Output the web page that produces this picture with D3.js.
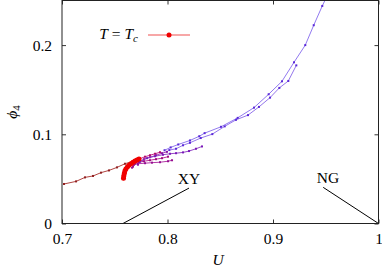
<!DOCTYPE html>
<html>
<head>
<meta charset="utf-8">
<script src="https://cdn.jsdelivr.net/npm/d3@7"></script>
<style>
body { margin: 0; background: #fff; }
svg { display: block; }
text { font-family: "Liberation Serif", "DejaVu Serif", serif; font-size: 15.5px; fill: #000; }
</style>
</head>
<body>
<script>

// ticks
var xTicks = [0.7, 0.8, 0.9, 1.0];
var xTickLabels = ["0.7", "0.8", "0.9", "1"];
var yTicks = [0, 0.1, 0.2];
var yTickLabels = ["0", "0.1", "0.2"];

// T = Tc points (U, phi4)
var tcU   = [0.7583, 0.7586, 0.7591, 0.7597, 0.7607, 0.7621, 0.7635, 0.7654, 0.7673, 0.7692, 0.7711, 0.7730];
var tcPhi = [0.0508, 0.0536, 0.0564, 0.0592, 0.0615, 0.0637, 0.0654, 0.0670, 0.0687, 0.0701, 0.0713, 0.0723];

// flow curves, red -> blue
var curve1U   = [0.7019, 0.7133, 0.7218, 0.7294, 0.7370, 0.7445, 0.7521, 0.7597, 0.7673, 0.7711];
var curve1Phi = [0.0443, 0.0472, 0.0517, 0.0533, 0.0570, 0.0595, 0.0629, 0.0670, 0.0698, 0.0715];

var curve2U   = [0.7682, 0.7701, 0.7739, 0.7787, 0.7834, 0.7882, 0.7929];
var curve2Phi = [0.0670, 0.0704, 0.0726, 0.0749, 0.0765, 0.0782, 0.0799];

var curve3U   = [0.7673, 0.7692, 0.7730, 0.7777, 0.7834, 0.7891, 0.7948, 0.8005];
var curve3Phi = [0.0637, 0.0670, 0.0687, 0.0698, 0.0709, 0.0721, 0.0732, 0.0749];

var curve4U   = [0.7664, 0.7682, 0.7720, 0.7787, 0.7853, 0.7929, 0.8005, 0.8043];
var curve4Phi = [0.0626, 0.0659, 0.0670, 0.0676, 0.0682, 0.0687, 0.0698, 0.0709];

var curve5U   = [0.7720, 0.7739, 0.7777, 0.7834, 0.7891, 0.7948, 0.7995];
var curve5Phi = [0.0659, 0.0698, 0.0721, 0.0743, 0.0765, 0.0788, 0.0804];

var curve6U   = [0.7739, 0.7806, 0.7882, 0.7957, 0.8024, 0.8081, 0.8147, 0.8204, 0.8270, 0.8327];
var curve6Phi = [0.0693, 0.0732, 0.0754, 0.0771, 0.0782, 0.0788, 0.0797, 0.0812, 0.0838, 0.0864];

var curve7U   = [0.8017, 0.8081, 0.8147, 0.8213, 0.8315, 0.8425, 0.8542, 0.8649, 0.8763, 0.8867, 0.8972, 0.9060, 0.9145, 0.9221];
var curve7Phi = [0.0823, 0.0838, 0.0877, 0.0905, 0.0958, 0.1002, 0.1089, 0.1162, 0.1215, 0.1307, 0.1411, 0.1520, 0.1598, 0.1773];

var curve8U   = [0.7972, 0.8030, 0.8102, 0.8213, 0.8301, 0.8352, 0.8507, 0.8665, 0.8820, 0.8959, 0.9085, 0.9199, 0.9306, 0.9386, 0.9467, 0.9502];
var curve8Phi = [0.0821, 0.0853, 0.0886, 0.0931, 0.0978, 0.1013, 0.1084, 0.1184, 0.1299, 0.1449, 0.1594, 0.1807, 0.2000, 0.2223, 0.2439, 0.2525];

var curveColors = ["#a8302c", "#c0147c", "#b41c8c", "#a8249c", "#9c2cac", "#8a34c0", "#7048e4", "#6c4cea"];
var markColors  = ["#902020", "#b00a70", "#a00c80", "#960e90", "#8a12a0", "#7a18b8", "#5a28d8", "#5a28d8"];

// fixed point markers
var fixedNames = ["XY", "NG"];
var fixedU     = [0.7578, 1.0];
var labelU     = [0.8204, 0.9476];
var labelPhi   = [0.0397, 0.0405];

var width = 382, height = 268;
var svg = d3.select("body").append("svg")
    .attr("width", width)
    .attr("height", height);

var x = d3.scaleLinear().domain([0.7, 1.0]).range([62, 378.5]);
var y = d3.scaleLinear().domain([0, 0.25]).range([223.5, 0.5]);

var plot = svg.append("g");
svg.append("clipPath").attr("id", "clip")
    .append("rect").attr("x", 62).attr("y", 0.5).attr("width", 316.5).attr("height", 223);

var line = d3.line().x(function (d) { return x(d[0]); }).y(function (d) { return y(d[1]); });

var curves = [
    [curve1U, curve1Phi], [curve2U, curve2Phi], [curve3U, curve3Phi], [curve4U, curve4Phi],
    [curve5U, curve5Phi], [curve6U, curve6Phi], [curve7U, curve7Phi], [curve8U, curve8Phi]
];

var curveG = plot.append("g").attr("clip-path", "url(#clip)");
curves.forEach(function (c, i) {
    var pts = d3.zip(c[0], c[1]);
    curveG.append("path")
        .attr("d", line(pts))
        .attr("fill", "none")
        .attr("stroke", curveColors[i])
        .attr("stroke-opacity", i >= 6 ? 0.75 : 0.9)
        .attr("stroke-width", 1);
    curveG.selectAll(null)
        .data(pts)
        .enter().append("rect")
        .attr("x", function (d) { return x(d[0]) - 1; })
        .attr("y", function (d) { return y(d[1]) - 1; })
        .attr("width", 2)
        .attr("height", 2)
        .attr("fill", markColors[i]);
});

// T = Tc
var tcPts = d3.zip(tcU, tcPhi);
curveG.append("path")
    .attr("d", line(tcPts))
    .attr("fill", "none")
    .attr("stroke", "#f00000")
    .attr("stroke-width", 4)
    .attr("stroke-linecap", "round");
curveG.selectAll(null)
    .data(tcPts)
    .enter().append("circle")
    .attr("cx", function (d) { return x(d[0]); })
    .attr("cy", function (d) { return y(d[1]); })
    .attr("r", 2.5)
    .attr("fill", "#f00000");

// fixed points
fixedNames.forEach(function (name, i) {
    svg.append("line")
        .attr("x1", x(fixedU[i])).attr("y1", y(0))
        .attr("x2", x(labelU[i])).attr("y2", y(labelPhi[i]))
        .attr("stroke", "#000").attr("stroke-width", 1);
});
svg.append("text").attr("x", 189).attr("y", 184).attr("text-anchor", "middle").text(fixedNames[0]);
svg.append("text").attr("x", 328).attr("y", 183).attr("text-anchor", "middle").text(fixedNames[1]);

// axes (ticks point inward)
svg.append("g")
    .attr("transform", "translate(0," + y(0) + ")")
    .call(d3.axisBottom(x).tickValues(xTicks).tickSize(-4).tickPadding(9.5)
        .tickFormat(function (d, i) { return xTickLabels[i]; }));
svg.append("g")
    .attr("transform", "translate(0," + y(0.25) + ")")
    .call(d3.axisTop(x).tickValues(xTicks).tickSize(-4).tickFormat(""));
svg.append("g")
    .attr("transform", "translate(" + x(0.7) + ",0)")
    .call(d3.axisLeft(y).tickValues(yTicks).tickSize(-4).tickPadding(10)
        .tickFormat(function (d, i) { return yTickLabels[i]; }));
svg.append("g")
    .attr("transform", "translate(" + x(1.0) + ",0)")
    .call(d3.axisRight(y).tickValues(yTicks).tickSize(-4).tickFormat(""));

svg.selectAll(".domain").remove();
svg.selectAll(".tick line").attr("stroke", "#333");
svg.selectAll(".tick text")
    .style("font-family", "Liberation Serif, DejaVu Serif, serif")
    .style("font-size", "15.5px")
    .attr("fill", "#000");

// frame
svg.append("rect")
    .attr("x", x(0.7)).attr("y", y(0.25))
    .attr("width", x(1.0) - x(0.7)).attr("height", y(0) - y(0.25))
    .attr("fill", "none").attr("stroke", "#222").attr("stroke-width", 1);

// axis titles
svg.append("text")
    .attr("x", 218).attr("y", 265)
    .attr("text-anchor", "middle")
    .style("font-style", "italic")
    .text("U");
var yl = svg.append("text")
    .attr("transform", "translate(17,112) rotate(-90)")
    .attr("text-anchor", "middle");
yl.append("tspan").style("font-style", "italic").text("ϕ");
yl.append("tspan").attr("dy", 3).style("font-size", "11px").text("4");

// legend
var lg = svg.append("text").attr("x", 138).attr("y", 39).attr("text-anchor", "end");
lg.append("tspan").style("font-style", "italic").text("T");
lg.append("tspan").text(" = ");
lg.append("tspan").style("font-style", "italic").text("T");
lg.append("tspan").attr("dy", 3).style("font-size", "11px").style("font-style", "italic").text("c");
svg.append("line")
    .attr("x1", 148).attr("x2", 190).attr("y1", 35).attr("y2", 35)
    .attr("stroke", "#f05050").attr("stroke-width", 1.2);
svg.append("circle").attr("cx", 169).attr("cy", 35).attr("r", 2.5).attr("fill", "#f00000");

</script>
</body>
</html>
